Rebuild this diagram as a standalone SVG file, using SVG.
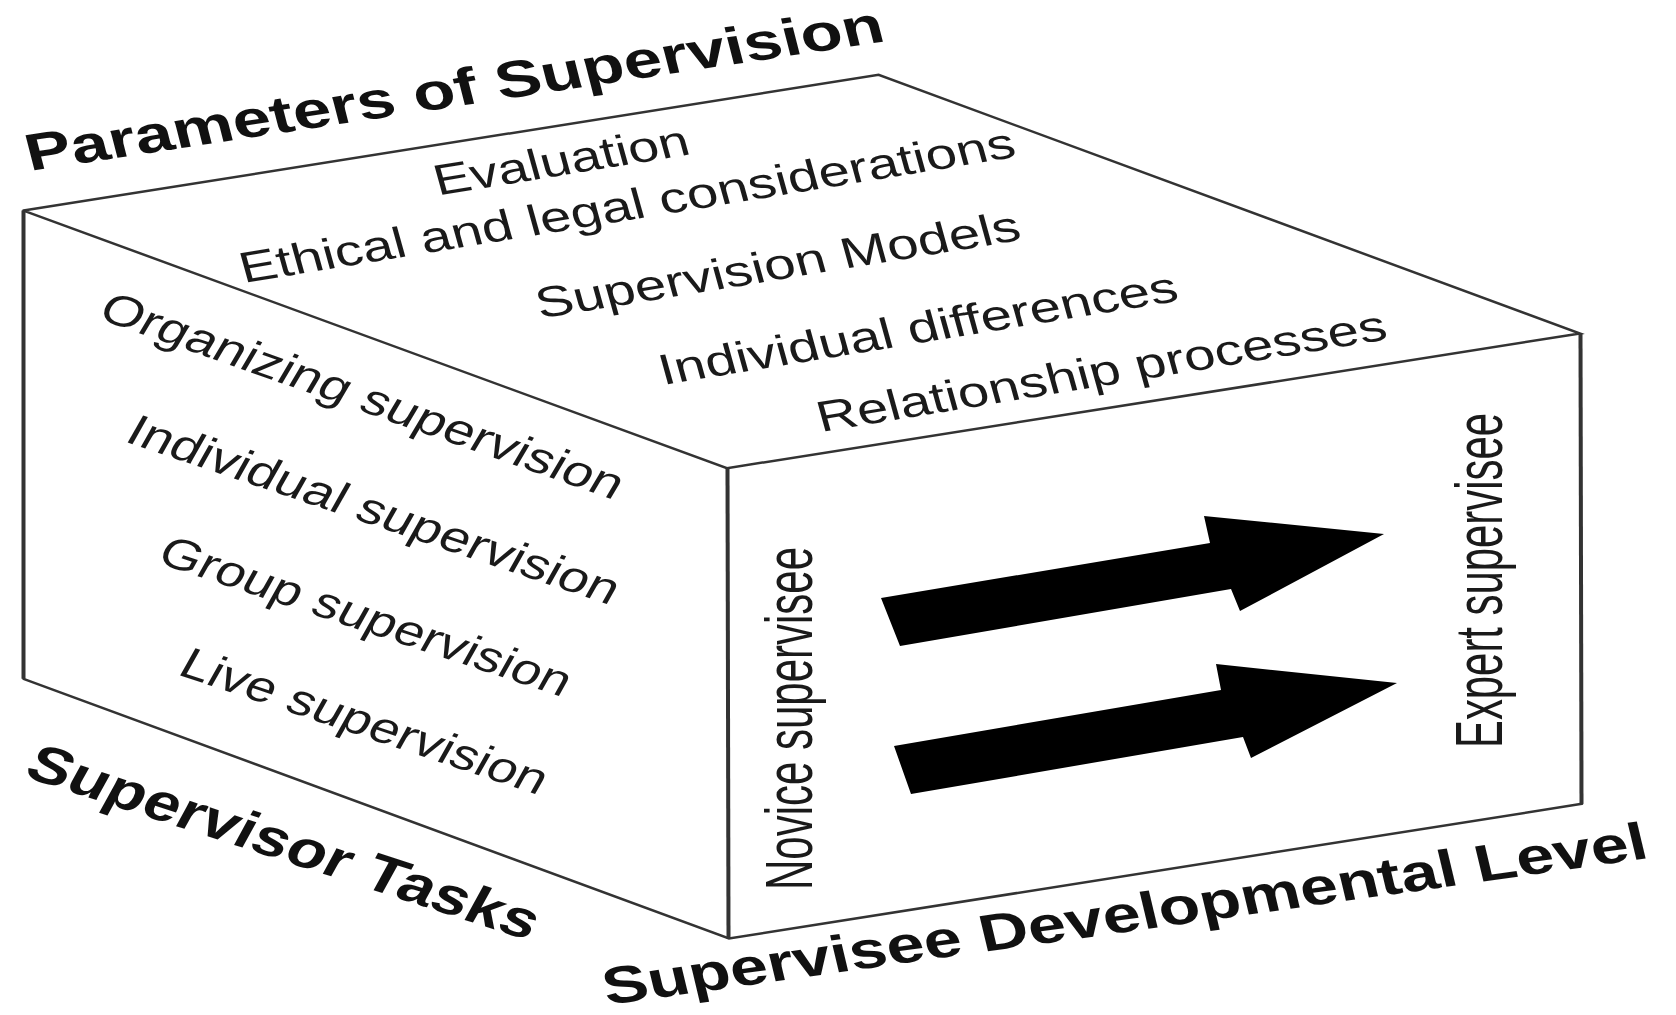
<svg xmlns="http://www.w3.org/2000/svg" width="1676" height="1015" viewBox="0 0 1676 1015">
<style>
.edge{stroke:#333;stroke-width:2.5;fill:none;stroke-linecap:round}
.vedge{stroke:#333;stroke-width:4;fill:none}
.t{font-family:"Liberation Sans",Arial,sans-serif;font-size:43px;fill:#1a1a1a}
.b{font-family:"Liberation Sans",Arial,sans-serif;font-size:52px;font-weight:bold;fill:#111}
.arrow{fill:#000}
</style>
<rect width="1676" height="1015" fill="#fff"/>
<g id="cube">
<polyline class="edge" points="23.5,210.6 878.6,74.8 1580,333.5 727,468.2 23.5,210.6"/>
<polyline class="edge" points="23.5,678.8 729,938.5 1582,803.8"/>
<line class="vedge" x1="23.5" y1="210.6" x2="23.5" y2="678.8"/>
<line class="vedge" x1="727.5" y1="468.2" x2="728.5" y2="938.5"/>
<line class="vedge" x1="1580.5" y1="333.5" x2="1581.5" y2="803.8"/>
</g>
<g id="axis-titles">
<text class="b" transform="translate(30 171) scale(1.3 1) rotate(-11.16)" textLength="672" lengthAdjust="spacingAndGlyphs">Parameters of Supervision</text>
<text class="b" transform="translate(22 776) scale(1.3 1) rotate(22.9)" textLength="423" lengthAdjust="spacingAndGlyphs">Supervisor Tasks</text>
<text class="b" transform="translate(607 1005) scale(1.3 1) rotate(-10.38)" textLength="816" lengthAdjust="spacingAndGlyphs">Supervisee Developmental Level</text>
</g>
<g id="top-face-labels">
<text class="t" transform="translate(438 195.6) scale(1.3 1) rotate(-12)" textLength="200" lengthAdjust="spacingAndGlyphs">Evaluation</text>
<text class="t" transform="translate(243.7 283) scale(1.3 1) rotate(-12)" textLength="609" lengthAdjust="spacingAndGlyphs">Ethical and legal considerations</text>
<text class="t" transform="translate(540 318.6) scale(1.3 1) rotate(-12)" textLength="380" lengthAdjust="spacingAndGlyphs">Supervision Models</text>
<text class="t" transform="translate(663 385) scale(1.3 1) rotate(-12)" textLength="407" lengthAdjust="spacingAndGlyphs">Individual differences</text>
<text class="t" transform="translate(821 432) scale(1.3 1) rotate(-12)" textLength="447" lengthAdjust="spacingAndGlyphs">Relationship processes</text>
</g>
<g id="left-face-labels">
<text class="t" transform="translate(96 318) scale(1.3 1) rotate(24.55)" textLength="438" lengthAdjust="spacingAndGlyphs">Organizing supervision</text>
<text class="t" transform="translate(123 441) scale(1.3 1) rotate(23.65)" textLength="409" lengthAdjust="spacingAndGlyphs">Individual supervision</text>
<text class="t" transform="translate(155 562) scale(1.3 1) rotate(23.33)" textLength="341" lengthAdjust="spacingAndGlyphs">Group supervision</text>
<text class="t" transform="translate(176 674) scale(1.3 1) rotate(23.5)" textLength="304" lengthAdjust="spacingAndGlyphs">Live supervision</text>
</g>
<g id="front-face">
<text class="t" transform="translate(812 890) scale(1.55 1) rotate(-90)" textLength="343" lengthAdjust="spacingAndGlyphs">Novice supervisee</text>
<text class="t" transform="translate(1502 748) scale(1.55 1) rotate(-90)" textLength="335" lengthAdjust="spacingAndGlyphs">Expert supervisee</text>
<polygon class="arrow" points="881,598 1210,543 1204,516 1384,534 1240,611 1231,589 900,646"/>
<polygon class="arrow" points="894,746 1221,690 1216,664 1397,683 1251,758 1243,737 911,794"/>
</g>
</svg>
